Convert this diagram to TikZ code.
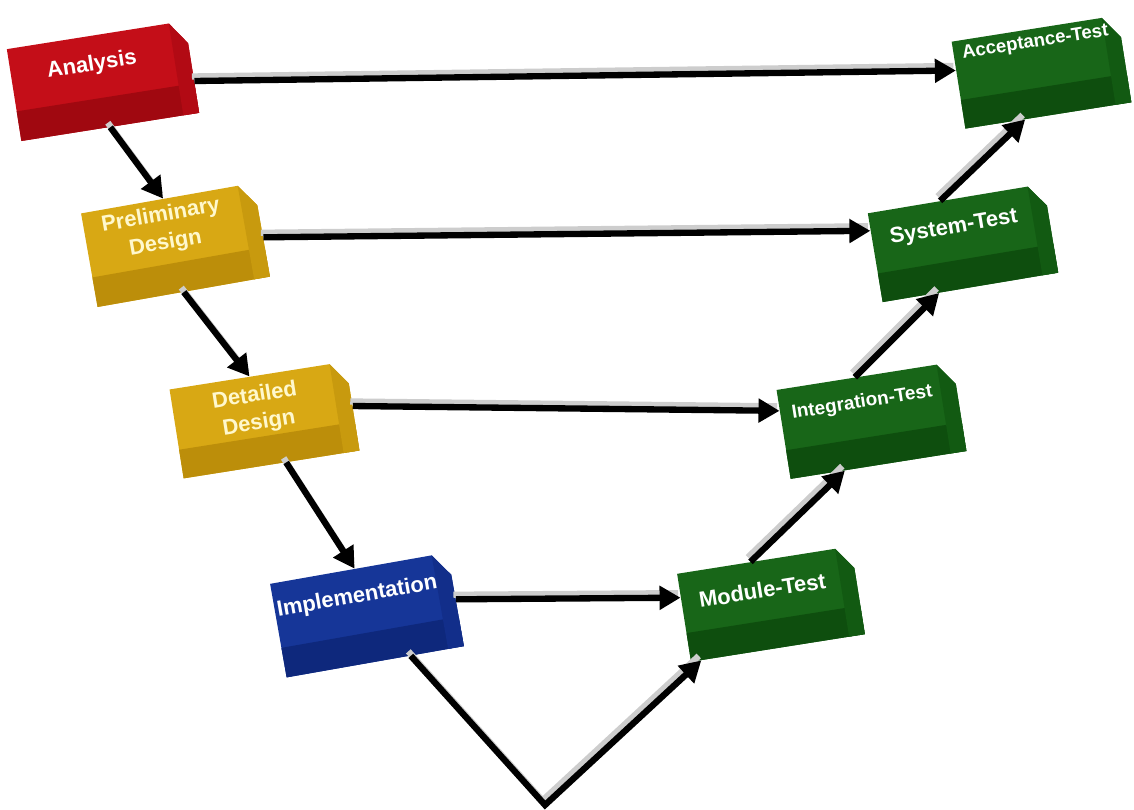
\documentclass[tikz,border=0pt]{standalone}
\usepackage{fontspec}
\setmainfont{Liberation Sans}
\usetikzlibrary{arrows.meta}

\definecolor{redfront}{RGB}{196,14,24}
\definecolor{redlow}{RGB}{160,8,16}
\definecolor{redside}{RGB}{178,10,20}
\definecolor{goldfront}{RGB}{216,168,20}
\definecolor{goldlow}{RGB}{188,142,10}
\definecolor{goldside}{RGB}{200,154,14}
\definecolor{bluefront}{RGB}{22,54,152}
\definecolor{bluelow}{RGB}{14,40,124}
\definecolor{blueside}{RGB}{18,46,138}
\definecolor{greenfront}{RGB}{24,102,24}
\definecolor{greenlow}{RGB}{14,78,14}
\definecolor{greenside}{RGB}{18,90,18}
\definecolor{paletext}{RGB}{255,248,205}
\definecolor{arrowshade}{RGB}{205,205,205}

\begin{document}
\begin{tikzpicture}
	\tikzstyle{every node}+=[inner sep=0pt]
	\tikzstyle{slab}=[rectangle, transform shape]
	\tikzstyle{caption}=[transform shape, align=center, text=white, font=\bfseries\fontsize{12.5}{15}\selectfont]
	\tikzstyle{flow}=[line width=3.6pt, -{Triangle[length=0.42cm,width=0.46cm]},
		preaction={draw=arrowshade, -, line width=3.6pt, transform canvas={shift={(-0.05,0.09)}}}]
	\useasboundingbox (0,0) rectangle (22.68,-16.2);
	% left side of the V
	\begin{scope}[shift={(2.06,-1.62)}, rotate=9]
		\node [slab, minimum width=3.6cm, minimum height=1.86cm] (ana) at (0,0) {};
		\fill [redfront] (-1.8,-0.93) -- (-1.8,0.93) -- (1.48,0.93) -- (1.8,0.48) -- (1.8,-0.93) -- cycle;
		\fill [redlow] (-1.8,-0.93) rectangle (1.8,-0.33);
		\fill [redside] (1.48,0.93) -- (1.8,0.48) -- (1.8,-0.93) -- (1.48,-0.93) -- cycle;
		\node [caption] (anatext) at (-0.17,0.35) {Analysis};
	\end{scope}
	\begin{scope}[shift={(3.51,-4.90)}, rotate=10]
		\node [slab, minimum width=3.5cm, minimum height=1.9cm] (pre) at (0,0) {};
		\fill [goldfront] (-1.75,-0.95) -- (-1.75,0.95) -- (1.43,0.95) -- (1.75,0.5) -- (1.75,-0.95) -- cycle;
		\fill [goldlow] (-1.75,-0.95) rectangle (1.75,-0.35);
		\fill [goldside] (1.43,0.95) -- (1.75,0.5) -- (1.75,-0.95) -- (1.43,-0.95) -- cycle;
		\node [caption, text=paletext] (pretext) at (-0.19,0.34) {Preliminary\\[1pt]Design};
	\end{scope}
	\begin{scope}[shift={(5.29,-8.40)}, rotate=9]
		\node [slab, minimum width=3.56cm, minimum height=1.8cm] (det) at (0,0) {};
		\fill [goldfront] (-1.78,-0.9) -- (-1.78,0.9) -- (1.46,0.9) -- (1.78,0.46) -- (1.78,-0.9) -- cycle;
		\fill [goldlow] (-1.78,-0.9) rectangle (1.78,-0.32);
		\fill [goldside] (1.46,0.9) -- (1.78,0.46) -- (1.78,-0.9) -- (1.46,-0.9) -- cycle;
		\node [caption, text=paletext] (dettext) at (-0.12,0.22) {Detailed\\[1pt]Design};
	\end{scope}
	\begin{scope}[shift={(7.34,-12.30)}, rotate=10]
		\node [slab, minimum width=3.6cm, minimum height=1.9cm] (imp) at (0,0) {};
		\fill [bluefront] (-1.8,-0.95) -- (-1.8,0.95) -- (1.48,0.95) -- (1.8,0.5) -- (1.8,-0.95) -- cycle;
		\fill [bluelow] (-1.8,-0.95) rectangle (1.8,-0.35);
		\fill [blueside] (1.48,0.95) -- (1.8,0.5) -- (1.8,-0.95) -- (1.48,-0.95) -- cycle;
		\node [caption] (imptext) at (-0.13,0.39) {Implementation};
	\end{scope}
	% right side of the V
	\begin{scope}[shift={(15.42,-12.08)}, rotate=9]
		\node [slab, minimum width=3.52cm, minimum height=1.78cm] (mod) at (0,0) {};
		\fill [greenfront] (-1.76,-0.89) -- (-1.76,0.89) -- (1.44,0.89) -- (1.76,0.45) -- (1.76,-0.89) -- cycle;
		\fill [greenlow] (-1.76,-0.89) rectangle (1.76,-0.31);
		\fill [greenside] (1.44,0.89) -- (1.76,0.45) -- (1.76,-0.89) -- (1.44,-0.89) -- cycle;
		\node [caption] (modtext) at (-0.13,0.3) {Module-Test};
	\end{scope}
	\begin{scope}[shift={(17.43,-8.41)}, rotate=9]
		\node [slab, minimum width=3.56cm, minimum height=1.8cm] (int) at (0,0) {};
		\fill [greenfront] (-1.78,-0.9) -- (-1.78,0.9) -- (1.46,0.9) -- (1.78,0.46) -- (1.78,-0.9) -- cycle;
		\fill [greenlow] (-1.78,-0.9) rectangle (1.78,-0.32);
		\fill [greenside] (1.46,0.9) -- (1.78,0.46) -- (1.78,-0.9) -- (1.46,-0.9) -- cycle;
		\node [caption, font=\bfseries\fontsize{10.8}{13}\selectfont] (inttext) at (-0.13,0.38) {Integration-Test};
	\end{scope}
	\begin{scope}[shift={(19.26,-4.86)}, rotate=9.5]
		\node [slab, minimum width=3.56cm, minimum height=1.8cm] (sys) at (0,0) {};
		\fill [greenfront] (-1.78,-0.9) -- (-1.78,0.9) -- (1.46,0.9) -- (1.78,0.46) -- (1.78,-0.9) -- cycle;
		\fill [greenlow] (-1.78,-0.9) rectangle (1.78,-0.32);
		\fill [greenside] (1.46,0.9) -- (1.78,0.46) -- (1.78,-0.9) -- (1.46,-0.9) -- cycle;
		\node [caption] (systext) at (-0.13,0.33) {System-Test};
	\end{scope}
	\begin{scope}[shift={(20.83,-1.44)}, rotate=9]
		\node [slab, minimum width=3.36cm, minimum height=1.76cm] (acc) at (0,0) {};
		\fill [greenfront] (-1.68,-0.88) -- (-1.68,0.88) -- (1.36,0.88) -- (1.68,0.44) -- (1.68,-0.88) -- cycle;
		\fill [greenlow] (-1.68,-0.88) rectangle (1.68,-0.3);
		\fill [greenside] (1.36,0.88) -- (1.68,0.44) -- (1.68,-0.88) -- (1.36,-0.88) -- cycle;
		\node [caption, font=\bfseries\fontsize{10.6}{12.5}\selectfont] (acctext) at (-0.03,0.6) {Acceptance-Test};
	\end{scope}
	% connectors
	\coordinate (vtip) at (10.9,-16.1);
	\draw [flow] (ana.-9.5) -- (acc.170);
	\draw [flow] (ana.south) -- (pre.95);
	\draw [flow] (pre.-5) -- (sys.163);
	\draw [flow] (pre.south) -- (det.100);
	\draw [flow] (det.east) -- (int.165);
	\draw [flow] (det.-72) -- (imp.95);
	\draw [flow] (imp.east) -- (mod.167);
	\draw [flow] (imp.-53) -- (vtip) -- (mod.-150);
	\draw [flow] (mod.107) -- (int.-127);
	\draw [flow] (int.102) -- (sys.-125);
	\draw [flow] (sys.109) -- (acc.-118);
\end{tikzpicture}
\end{document}
